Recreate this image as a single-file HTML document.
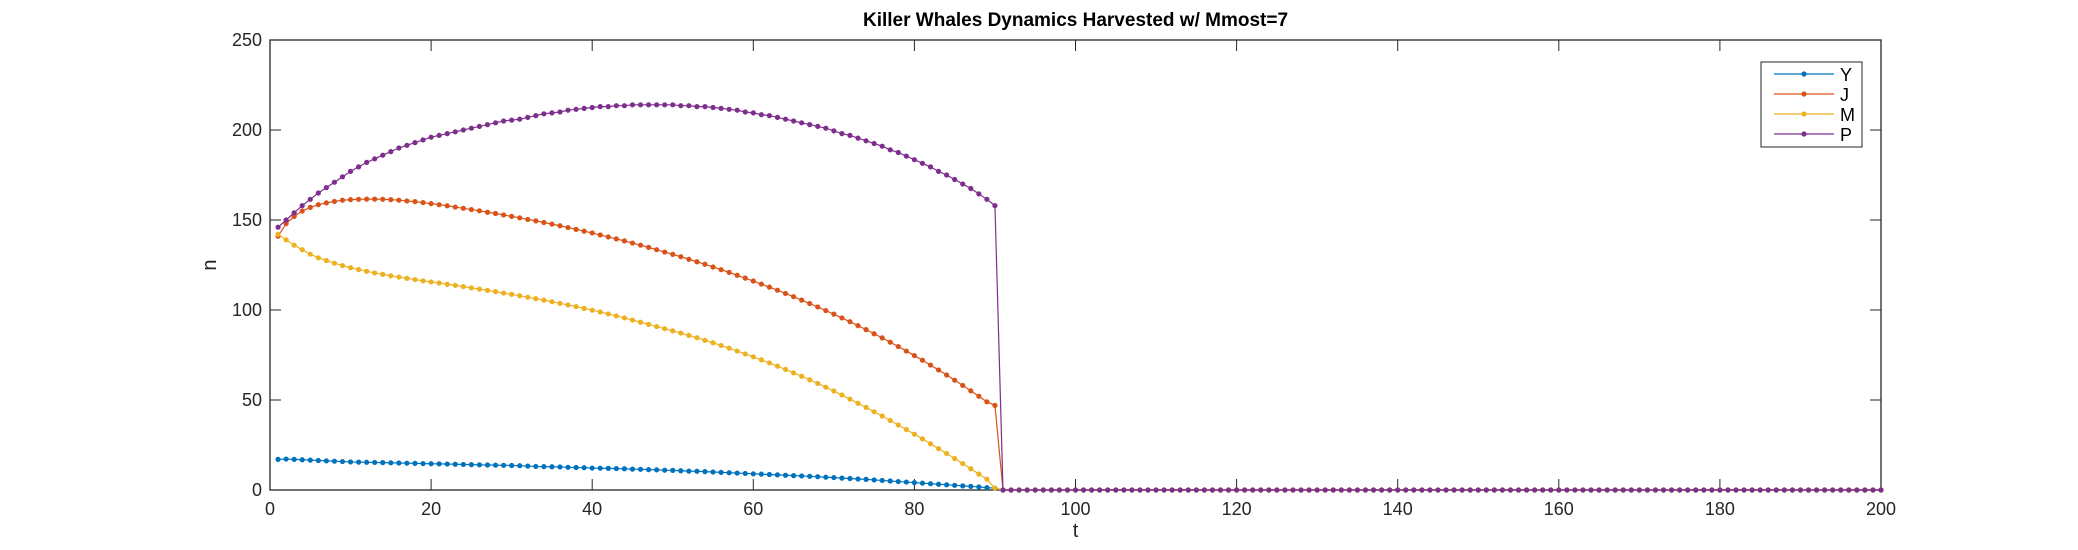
<!DOCTYPE html>
<html><head><meta charset="utf-8"><style>
body{margin:0;background:#fff;width:2078px;height:550px;overflow:hidden}
svg{display:block;font-family:"Liberation Sans",sans-serif}
</style></head><body>
<svg id="chart" width="2078" height="550"></svg>
<script>
const tValues = [];
const yHead = [17,17.2,17,16.8,16.6,16.4,16.2,16,15.8,15.6,15.5,15.4,15.3,15.2,15.1,15,14.9,14.8,14.7,14.6,14.5,14.4,14.3,14.2,14.1,14,13.9,13.8,13.7,13.6,13.5,13.3,13.1,13,12.9,12.8,12.6,12.5,12.4,12.2,12.1,12,11.9,11.8,11.6,11.5,11.3,11.2,11,10.9,10.7,10.5,10.4,10.2,10,9.8,9.6,9.4,9.2,9,8.8,8.6,8.4,8.2,8,7.8,7.6,7.4,7.1,6.9,6.6,6.4,6.1,5.9,5.6,5.3,5,4.7,4.4,4.1,3.8,3.5,3.2,2.9,2.6,2.3,2,1.7,1.3,1];
const jHead = [141,148,152,155,157,158.5,159.5,160.3,161,161.3,161.5,161.6,161.6,161.5,161.3,161,160.6,160.2,159.7,159.1,158.5,157.9,157.2,156.5,155.8,155.1,154.3,153.6,152.8,152,151.2,150.3,149.5,148.6,147.7,146.8,145.8,144.8,143.8,142.8,141.7,140.6,139.5,138.4,137.2,136,134.8,133.5,132.2,130.9,129.6,128.2,126.8,125.4,123.9,122.4,120.9,119.3,117.7,116.1,114.4,112.7,111,109.2,107.4,105.5,103.6,101.7,99.7,97.7,95.6,93.5,91.3,89.1,86.8,84.5,82.1,79.7,77.2,74.7,72.1,69.4,66.7,63.9,61,58.1,55.1,52.1,49,47];
const mHead = [142,139,136,133.5,131,129,127.5,126,124.7,123.5,122.5,121.5,120.6,119.8,119,118.3,117.6,116.9,116.2,115.6,115,114.3,113.7,113,112.3,111.6,110.9,110.2,109.4,108.7,107.9,107.1,106.3,105.5,104.6,103.7,102.8,101.9,100.9,99.9,98.9,97.8,96.7,95.6,94.4,93.2,92,90.8,89.6,88.4,87.2,85.9,84.6,83.2,81.8,80.3,78.8,77.2,75.6,74,72.3,70.6,68.8,67,65.1,63.2,61.2,59.2,57.1,55,52.8,50.5,48.2,45.9,43.5,41.1,38.6,36.1,33.6,31,28.4,25.7,23,20.3,17.5,14.7,11.8,8.9,6,1];
const pHead = [146,150,154,158,161.5,165,168,171,174,177,179.5,182,184,186,188,190,191.5,193,194.5,196,197,198,199,200,201,202,203,204,205,205.5,206,207,208,209,209.5,210,211,211.5,212,212.5,213,213,213.5,213.5,214,214,214,214,214,214,213.5,213.5,213,213,212.5,212,211.5,211,210,209.5,208.5,208,207,206,205,204,203,202,201,199.5,198,197,195.5,194,192.5,191,189,187.5,185.5,183.5,181.5,179.5,177,175,172.5,170,167.5,164.5,161.5,158];
const zeroTail = [0,0,0,0,0,0,0,0,0,0,0,0,0,0,0,0,0,0,0,0,0,0,0,0,0,0,0,0,0,0,0,0,0,0,0,0,0,0,0,0,0,0,0,0,0,0,0,0,0,0,0,0,0,0,0,0,0,0,0,0,0,0,0,0,0,0,0,0,0,0,0,0,0,0,0,0,0,0,0,0,0,0,0,0,0,0,0,0,0,0,0,0,0,0,0,0,0,0,0,0,0,0,0,0,0,0,0,0,0,0];
const seriesNames = ["Y","J","M","P"];
const seriesColors = ["#0072BD","#D95319","#EDB120","#7E2F8E"];
const seriesValues = [yHead.concat(zeroTail), jHead.concat(zeroTail), mHead.concat(zeroTail), pHead.concat(zeroTail)];
for (let i = 1; i <= 200; i++) tValues.push(i);
const xTicks = [0,20,40,60,80,100,120,140,160,180,200];
const yTicks = [0,50,100,150,200,250];

const L=270,R=1881,T=40,B=490;
const sx=v=>L+(v-0)/200*(R-L);
const sy=v=>B-(v-0)/250*(B-T);
const NS="http://www.w3.org/2000/svg";
const svg=document.getElementById('chart');
function mk(tag,attrs,parent){const e=document.createElementNS(NS,tag);for(const k in attrs)e.setAttribute(k,attrs[k]);(parent||svg).appendChild(e);return e;}

const title=mk('text',{x:(L+R)/2,y:26,'text-anchor':'middle','font-size':19,'font-weight':'bold',fill:'#000'});
title.textContent='Killer Whales Dynamics Harvested w/ Mmost=7';



const tk=11;
xTicks.forEach(v=>{
  const x=sx(v);
  mk('line',{x1:x,y1:B,x2:x,y2:B-tk,stroke:'#262626','stroke-width':1});
  mk('line',{x1:x,y1:T,x2:x,y2:T+tk,stroke:'#262626','stroke-width':1});
  const t=mk('text',{x:x,y:B+25,'text-anchor':'middle','font-size':18,fill:'#262626'});
  t.textContent=v;
  
  
});
yTicks.forEach(v=>{
  const y=sy(v);
  mk('line',{x1:L,y1:y,x2:L+tk,y2:y,stroke:'#262626','stroke-width':1});
  mk('line',{x1:R,y1:y,x2:R-tk,y2:y,stroke:'#262626','stroke-width':1});
  const t=mk('text',{x:L-8,y:y+6,'text-anchor':'end','font-size':18,fill:'#262626'});
  t.textContent=v;
  
  
});
const box=mk('rect',{x:L,y:T,width:R-L,height:B-T,fill:'none',stroke:'#262626','stroke-width':1.3});



const xl=mk('text',{x:(L+R)/2,y:537,'text-anchor':'middle','font-size':20,fill:'#262626'});
xl.textContent='t';


const yl=mk('text',{x:0,y:0,'text-anchor':'middle','font-size':20,fill:'#262626',transform:`translate(216,${(T+B)/2}) rotate(-90)`});
yl.textContent='n';



seriesValues.forEach((vals,si)=>{
  const g=mk('g',{});
  
  
  const pts=vals.map((v,i)=>sx(tValues[i])+','+sy(v)).join(' ');
  mk('polyline',{points:pts,fill:'none',stroke:seriesColors[si],'stroke-width':1.2},g);
  vals.forEach((v,i)=>{
    const c=mk('circle',{cx:sx(tValues[i]),cy:sy(v),r:2.6,fill:seriesColors[si]},g);
    
    
  });
});

const lg=mk('g',{});


mk('rect',{x:1761,y:62,width:101,height:85,fill:'#fff',stroke:'#262626','stroke-width':1},lg);
seriesNames.forEach((n,i)=>{
  const y=74+i*20;
  const e=mk('g',{},lg);
  
  
  mk('line',{x1:1774,y1:y,x2:1834,y2:y,stroke:seriesColors[i],'stroke-width':1.2},e);
  mk('circle',{cx:1804,cy:y,r:2.6,fill:seriesColors[i]},e);
  const t=mk('text',{x:1840,y:y+7,'font-size':18,fill:'#000'},e);
  t.textContent=n;
});
</script>
</body></html>
